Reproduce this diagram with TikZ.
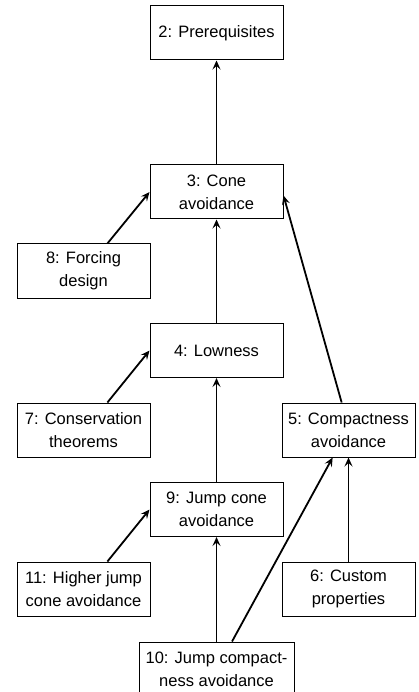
\documentclass[tikz,border=0pt]{standalone}
\usepackage{fontspec}
\setmainfont{Liberation Sans}
\usetikzlibrary{arrows.meta}
\begin{document}
\begin{tikzpicture}[x=1pt,y=-1pt,
  box/.style={draw,line width=1pt,minimum width=133pt,minimum height=54pt,
    align=center,inner sep=2pt,font=\fontsize{16.5}{23}\selectfont},
  dep/.style={line width=1.8pt,-{Stealth[length=9pt,width=8pt,inset=3.5pt]}}]
\clip (0,0) rectangle (419,692);
%
\node[box] (prereq) at (216.5,33) {2: Prerequisites};
\node[box] (cone) at (216.5,192) {3: Cone\\avoidance};
\node[box] (forcing) at (83.5,271) {8: Forcing\\design};
\node[box] (lowness) at (216.5,350.5) {4: Lowness};
\node[box] (conserv) at (83.5,430) {7: Conservation\\theorems};
\node[box] (compact) at (348.5,430) {5: Compactness\\avoidance};
\node[box] (jumpcone) at (216.5,509.5) {9: Jump cone\\avoidance};
\node[box] (higher) at (83.5,589) {11: Higher jump\\cone avoidance};
\node[box] (custom) at (348.5,589) {6: Custom\\properties};
\node[box,minimum width=155pt,minimum height=55pt] (jumpcompact) at (216.5,669.5) {10: Jump compact-\\ness avoidance};
%
\draw[dep] (cone) -- (prereq);
\draw[dep] (lowness) -- (cone);
\draw[dep] (forcing.49) -- (cone.west);
\draw[dep] (compact.104) -- (cone.-3);
\draw[dep] (conserv.49) -- (lowness.west);
\draw[dep] (jumpcone) -- (lowness);
\draw[dep] (higher.49) -- (jumpcone.west);
\draw[dep] (custom) -- (compact);
\draw[dep] (jumpcompact) -- (jumpcone);
\draw[dep] (jumpcompact.61) -- (compact.-120);
%
\end{tikzpicture}
\end{document}
